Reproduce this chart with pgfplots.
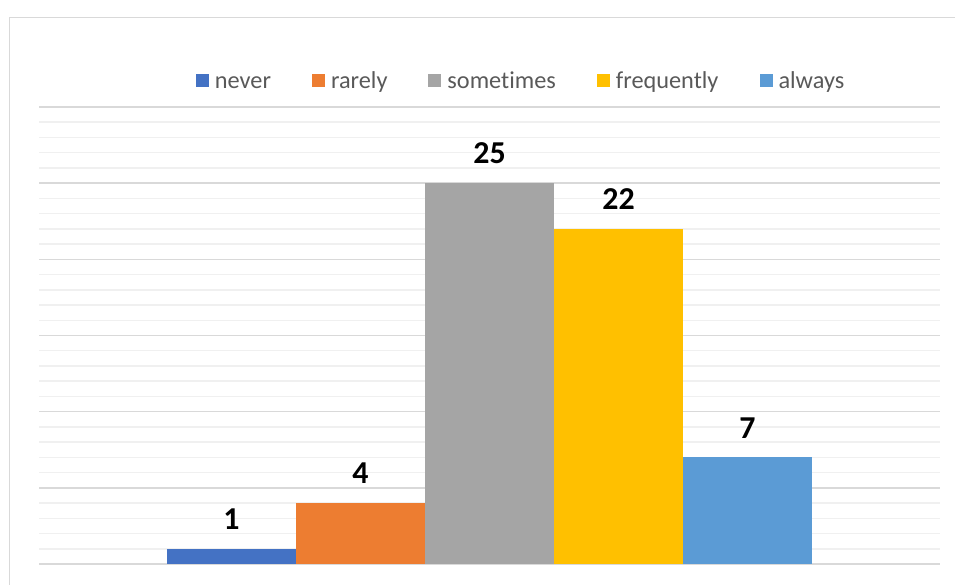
\documentclass[border=0pt]{standalone}
\usepackage{pgfplots}
\pgfplotsset{compat=1.18}
\usepackage{fontspec}
\setmainfont{Carlito}[Ligatures={NoCommon}]
\definecolor{cnever}{HTML}{4472C4}
\definecolor{crarely}{HTML}{ED7D31}
\definecolor{csometimes}{HTML}{A5A5A5}
\definecolor{cfreq}{HTML}{FFC000}
\definecolor{calways}{HTML}{5B9BD5}
\definecolor{majgrid}{HTML}{D9D9D9}
\definecolor{mingrid}{HTML}{F0F0F0}
\definecolor{legtext}{HTML}{595959}
\begin{document}
\begin{tikzpicture}[x=1bp,y=1bp]
\useasboundingbox (0,0) rectangle (955,585);
\draw[majgrid, line width=1.5bp] (9.5,-10) -- (9.5,567.5) -- (970,567.5);
\begin{axis}[
  at={(39bp,21bp)}, anchor=south west,
  scale only axis,
  width=901bp, height=457bp,
  xmin=-1.492, xmax=5.492,
  ymin=0, ymax=30,
  ytick={0,5,...,30},
  minor y tick num=4,
  ymajorgrids, yminorgrids,
  major grid style={color=majgrid, line width=1.5bp},
  minor grid style={color=mingrid, line width=1.5bp},
  xtick=\empty,
  yticklabels={},
  major tick length=0pt, minor tick length=0pt,
  axis line style={draw=none},
  ybar, bar width=1, bar shift=0pt,
  every axis plot/.append style={draw=none},
  nodes near coords={\fontsize{32}{36}\selectfont\bfseries\pgfmathprintnumber[assume math mode=true]{\pgfplotspointmeta}},
  every node near coord/.append style={text=black, inner sep=0pt, yshift=19bp},
  legend columns=-1,
  legend style={at={(0.534,1.059)}, anchor=center, draw=none, fill=none,
    font=\fontsize{24.4}{28}\selectfont, text=legtext,
    nodes={inner sep=0pt, anchor=west, text height=18bp, text depth=2bp},
    /tikz/every odd column/.append style={column sep=6bp},
    /tikz/every even column/.append style={column sep=41bp}},
  legend image code/.code={\fill[#1] (0bp,-6.5bp) rectangle (13bp,6.5bp);},
]
\addplot[fill=cnever] coordinates {(0,1)};
\addplot[fill=crarely] coordinates {(1,4)};
\addplot[fill=csometimes] coordinates {(2,25)};
\addplot[fill=cfreq] coordinates {(3,22)};
\addplot[fill=calways] coordinates {(4,7)};
\legend{never, rarely, sometimes, frequently, always}
\end{axis}
\end{tikzpicture}
\end{document}
